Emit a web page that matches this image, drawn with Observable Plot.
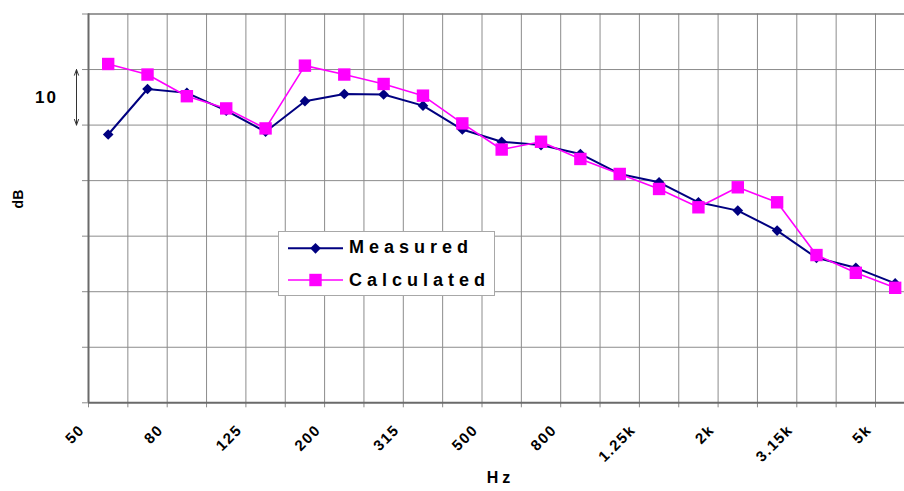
<!DOCTYPE html>
<html>
<head>
<meta charset="utf-8">
<script src="https://cdn.jsdelivr.net/npm/d3@7"></script>
<script src="https://cdn.jsdelivr.net/npm/@observablehq/plot@0.6"></script>
<style>
  html, body { margin: 0; padding: 0; background: #fff; overflow: hidden; }
  #wrap { position: relative; width: 904px; height: 491px; }
  #legend { position: absolute; left: 278px; top: 231px; }
</style>
</head>
<body>
<div id="wrap"></div>
<script>
// Third-octave band centre frequencies (categories)
const categories = ["50","63","80","100","125","160","200","250","315","400","500","630","800","1k","1.25k","1.6k","2k","2.5k","3.15k","4k","5k"];
// Series values (dB, relative)
const measured   = [48.3,56.5,55.8,52.6,48.8,54.3,55.6,55.5,53.5,49.2,47.0,46.4,44.8,41.2,39.7,36.1,34.6,31.0,26.1,24.3,21.5];
const calculated = [61.0,59.1,55.2,53.0,49.4,60.7,59.1,57.4,55.3,50.3,45.6,47.0,43.9,41.2,38.5,35.2,38.8,36.1,26.6,23.4,20.7];
// Tick labels
const xTickLabels = ["50","80","125","200","315","500","800","1.25k","2k","3.15k","5k"];
const yGrid = [0,10,20,30,40,50,60,70];
const yScaleBar = [{label: "10", from: 50, to: 60}];
const seriesNames = ["Measured", "Calculated"];
const seriesColors = ["#000080", "#ff00ff"];

const rows = categories.map((c, i) => ({i, c, m: measured[i], k: calculated[i]}));
const gridIdx = d3.range(0, categories.length);
const font = "'Liberation Sans', Arial, sans-serif";

const chart = Plot.plot({
  width: 904,
  height: 491,
  marginLeft: 88,
  marginRight: 0,
  marginTop: 13.5,
  marginBottom: 88.7,
  style: {fontFamily: font, background: "white", color: "#8a8a8a", overflow: "visible"},
  x: {domain: [0, categories.length], range: [88, 88 + categories.length * 39.35],
      ticks: gridIdx, tickSize: 5, tickFormat: () => "", label: null},
  y: {domain: [0, 70], ticks: yGrid, tickSize: 6, tickFormat: () => "", label: null},
  marks: [
    Plot.ruleX(gridIdx, {stroke: "#8c8c8c", strokeWidth: 1}),
    Plot.ruleY(yGrid.slice(1, -1), {stroke: "#8c8c8c", strokeWidth: 1}),
    Plot.ruleY([70], {stroke: "#7a7a7a", strokeWidth: 1.5}),
    Plot.ruleY([0], {stroke: "#6a6a6a", strokeWidth: 2}),
    Plot.ruleX([0], {stroke: "#6a6a6a", strokeWidth: 2}),
    // series
    Plot.line(rows, {x: d => d.i + 0.5, y: "m", stroke: seriesColors[0], strokeWidth: 2}),
    Plot.dot(rows, {x: d => d.i + 0.5, y: "m", symbol: "diamond2", r: 4.8, fill: seriesColors[0]}),
    Plot.line(rows, {x: d => d.i + 0.5, y: "k", stroke: seriesColors[1], strokeWidth: 1.6}),
    Plot.dot(rows, {x: d => d.i + 0.5, y: "k", symbol: "square", r: 7, fill: seriesColors[1]}),
    // y scale bar annotation
    Plot.arrow(yScaleBar, {x1: 0, x2: 0, y1: d => (d.from + d.to) / 2, y2: "to", dx: -12, stroke: "#333", strokeWidth: 1, headLength: 9, headAngle: 40}),
    Plot.arrow(yScaleBar, {x1: 0, x2: 0, y1: d => (d.from + d.to) / 2, y2: "from", dx: -12, stroke: "#333", strokeWidth: 1, headLength: 9, headAngle: 40}),
    Plot.text(yScaleBar, {x: 0, y: d => (d.from + d.to) / 2, text: "label", dx: -42, fontSize: 17, fontWeight: "bold", fill: "black"}),
    // x tick labels
    Plot.text(xTickLabels, {x: d => categories.indexOf(d), frameAnchor: "bottom", text: d => d, rotate: -45, textAnchor: "end", dx: -3, dy: 28, fontSize: 15, fontWeight: "bold", fill: "black"}),
    // axis titles
    Plot.text(["dB"], {frameAnchor: "left", text: d => d, dx: -70, dy: 0, rotate: -90, fontSize: 14, fontWeight: "bold", fill: "black"}),
    Plot.text(["Hz"], {frameAnchor: "bottom", text: d => d, dx: 4, dy: 80, fontSize: 16, fontWeight: "bold", fill: "black"})
  ]
});

// letter spacing tweaks
d3.select(chart).selectAll("text").each(function() {
  const t = this.textContent;
  if (t === "Hz") this.setAttribute("letter-spacing", "4");
  else if (t === "10") this.setAttribute("letter-spacing", "2");
  else if (xTickLabels.includes(t)) this.setAttribute("letter-spacing", "1.5");
});

document.getElementById("wrap").appendChild(chart);

// Legend (inside plot area)
const lg = d3.select("#wrap").append("svg")
  .attr("id", "legend").attr("width", 217).attr("height", 65)
  .style("font-family", font);
lg.append("rect").attr("x", 0.5).attr("y", 0.5).attr("width", 216).attr("height", 64)
  .attr("fill", "white").attr("stroke", "#a8a8a8");
seriesNames.forEach((name, j) => {
  const cy = j === 0 ? 17.3 : 49;
  lg.append("line").attr("x1", 10).attr("x2", 65).attr("y1", cy).attr("y2", cy)
    .attr("stroke", seriesColors[j]).attr("stroke-width", j === 0 ? 2 : 1.6);
  if (j === 0) {
    lg.append("path").attr("d", d3.symbol(d3.symbolDiamond2, Math.PI * 4.8 * 4.8)())
      .attr("transform", `translate(37.5,${cy})`).attr("fill", seriesColors[j]);
  } else {
    lg.append("path").attr("d", d3.symbol(d3.symbolSquare, Math.PI * 7 * 7)())
      .attr("transform", `translate(37.5,${cy})`).attr("fill", seriesColors[j]);
  }
  lg.append("text").attr("x", 71).attr("y", j === 0 ? 22.3 : 55)
    .attr("font-size", 18).attr("font-weight", "bold").attr("letter-spacing", 5)
    .attr("fill", "black").text(name);
});
</script>
</body>
</html>
